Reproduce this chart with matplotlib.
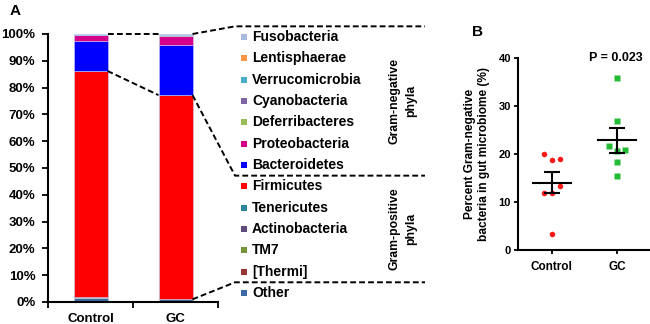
import matplotlib
matplotlib.use("Agg")
import matplotlib.pyplot as plt
from matplotlib.lines import Line2D
from matplotlib.patches import Rectangle
import numpy as np

plt.rcParams['font.family'] = ['Liberation Sans', 'DejaVu Sans']
plt.rcParams['font.weight'] = 'bold'

# Panel A data: relative abundance (%), listed bottom -> top of the stack
phyla = ["Other", "[Thermi]", "TM7", "Actinobacteria", "Tenericutes", "Firmicutes",
         "Bacteroidetes", "Proteobacteria", "Deferribacteres", "Cyanobacteria",
         "Verrucomicrobia", "Lentisphaerae", "Fusobacteria"]
groups = ["Control", "GC"]
control_pct = [1.6, 0.05, 0.05, 0.2, 0.1, 84.2, 11.1, 2.3, 0.1, 0.1, 0.1, 0.05, 0.05]
gc_pct = [1.0, 0.05, 0.05, 0.15, 0.05, 75.9, 18.7, 3.5, 0.2, 0.2, 0.1, 0.05, 0.05]
phyla_colors = ["#3d6aa6", "#953735", "#77933c", "#604a7b", "#31859c", "#ff0000",
                "#0000ff", "#d4008c", "#9bbb59", "#8064a2", "#4bacc6", "#f79646", "#a9badf"]

# Panel B data: percent gram-negative bacteria per mouse
control_gneg = [20.1, 18.8, 19.0, 13.4, 11.9, 11.8, 3.3]
gc_gneg = [35.9, 26.9, 21.7, 20.6, 20.9, 18.4, 15.5]
p_text = "P = 0.023"

W, H = 650, 324
fig = plt.figure(figsize=(W / 100, H / 100), dpi=100)


def px_axes(x0, y0, x1, y1):
    # pixel box (top-left origin) -> figure axes
    return fig.add_axes([x0 / W, 1 - y1 / H, (x1 - x0) / W, (y1 - y0) / H])


# ---- Panel A ----
axA = px_axes(48, 34, 218, 302)
data = np.array([control_pct, gc_pct]) / 100.0
bottoms = np.zeros(2)
bw = 0.4
for i, name in enumerate(phyla):
    axA.bar([0, 1], data[:, i], bw, bottom=bottoms, color=phyla_colors[i],
            edgecolor="#c8cff0", linewidth=0.4)
    bottoms += data[:, i]
axA.set_xlim(-0.5, 1.5)
axA.set_ylim(0, 1)
axA.set_yticks(np.arange(0, 1.01, 0.1))
axA.set_yticklabels([f"{int(round(v * 100))}%" for v in np.arange(0, 1.01, 0.1)])
axA.set_xticks([0, 1])
axA.set_xticklabels(groups)
axA.set_xticks([-0.5, 0.5, 1.5], minor=True)
axA.tick_params(axis="x", which="major", length=0, pad=8, labelsize=9.5)
axA.tick_params(axis="x", which="minor", length=4, width=1.3, direction="out")
axA.tick_params(axis="y", length=4, width=1.3, pad=5, labelsize=9.5)
for s in ["top", "right"]:
    axA.spines[s].set_visible(False)
for s in ["left", "bottom"]:
    axA.spines[s].set_linewidth(1.5)

fig.text(10 / W, 1 - 11 / H, "A", fontsize=11, fontweight="bold", va="center")

# legend, top entry first
leg_y0, leg_dy = 37, 21.33
for k, i in enumerate(range(len(phyla) - 1, -1, -1)):
    y = leg_y0 + k * leg_dy
    fig.add_artist(Rectangle((241 / W, 1 - (y + 3) / H), 6 / W, 6 / H,
                             transform=fig.transFigure, color=phyla_colors[i], lw=0))
    fig.text(252 / W, 1 - y / H, phyla[i], fontsize=10, fontweight="bold", va="center")

b_top = leg_y0 - leg_dy / 2
b_mid = leg_y0 + 6.5 * leg_dy
b_bot = leg_y0 + 11.5 * leg_dy
x_br0, x_br1 = 235, 425


def to_px(ax, x, y):
    dx, dy = ax.transData.transform((x, y))
    return dx, H - dy


def dashed(pts):
    xs = [p[0] / W for p in pts]
    ys = [1 - p[1] / H for p in pts]
    fig.add_artist(Line2D(xs, ys, transform=fig.transFigure, color="black",
                          lw=1.4, ls=(0, (3, 1.6))))


cum_c = np.cumsum(data[0])
cum_g = np.cumsum(data[1])
i_firm = phyla.index("Firmicutes")
i_other = phyla.index("Other")
dashed([to_px(axA, bw / 2, 1.0), to_px(axA, 1 - bw / 2, 1.0)])
dashed([to_px(axA, bw / 2, cum_c[i_firm]), to_px(axA, 1 - bw / 2, cum_g[i_firm])])
dashed([to_px(axA, 1 + bw / 2, 1.0), (x_br0, b_top), (x_br1, b_top)])
dashed([to_px(axA, 1 + bw / 2, cum_g[i_firm]), (x_br0, b_mid), (x_br1, b_mid)])
dashed([to_px(axA, 1 + bw / 2, cum_g[i_other]), (x_br0, b_bot), (x_br1, b_bot)])

fig.text(403 / W, 1 - (b_top + b_mid) / 2 / H, "Gram-negative\nphyla", rotation=90,
         ha="center", va="center", fontsize=8.8, fontweight="bold",
         multialignment="center", linespacing=1.45)
fig.text(403 / W, 1 - (b_mid + b_bot) / 2 / H, "Gram-positive\nphyla", rotation=90,
         ha="center", va="center", fontsize=8.8, fontweight="bold",
         multialignment="center", linespacing=1.45)

# ---- Panel B ----
axB = px_axes(518, 58, 652, 250)
offsets = [-0.12, 0, 0.12, 0.12, -0.12, 0, 0]
offsets_gc = [0, 0, -0.12, 0, 0.12, 0, 0]
axB.plot(np.array(offsets), control_gneg, "o", color="#ff1a1a", ms=4, mec="none")
axB.plot(1 + np.array(offsets_gc), gc_gneg, "s", color="#22bb33", ms=3.8, mec="none")
for xi, vals in enumerate([control_gneg, gc_gneg]):
    m = np.mean(vals)
    sem = np.std(vals, ddof=1) / np.sqrt(len(vals))
    axB.plot([xi - 0.29, xi + 0.29], [m, m], color="black", lw=1.5)
    axB.errorbar(xi, m, yerr=sem, color="black", lw=1.5, capsize=5.5, capthick=1.5)
axB.set_xlim(-0.52, 1.54)
axB.set_ylim(0, 40)
axB.set_yticks([0, 10, 20, 30, 40])
axB.set_xticks([0, 1])
axB.set_xticklabels(groups)
axB.tick_params(axis="y", length=3, width=1.3, pad=2, labelsize=8)
axB.tick_params(axis="x", length=3, width=1.3, pad=5, labelsize=8.5)
for s in ["top", "right"]:
    axB.spines[s].set_visible(False)
for s in ["left", "bottom"]:
    axB.spines[s].set_linewidth(1.5)
axB.text(0.73, 1.0, p_text, transform=axB.transAxes, ha="center", va="center",
         fontsize=9, fontweight="bold")
fig.text(477 / W, 1 - 154 / H, "Percent Gram-negative\nbacteria in gut microbiome (%)",
         rotation=90, ha="center", va="center", fontsize=8.6, fontweight="bold",
         multialignment="center", linespacing=1.2)
fig.text(472 / W, 1 - 32 / H, "B", fontsize=11, fontweight="bold", va="center")

fig.savefig("out.png", dpi=100)
